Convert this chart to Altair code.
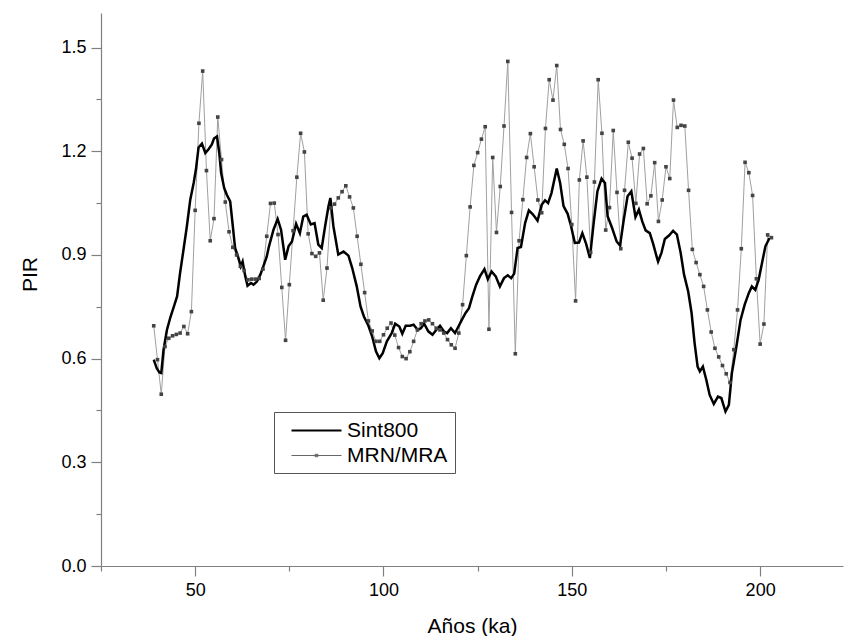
import altair as alt
import pandas as pd

# ---------------- data ----------------
series_names = ["Sint800", "MRN/MRA"]

mrn_age = list(range(39, 204))
mrn_pir = [
    0.695, 0.597, 0.497, 0.635, 0.659, 0.666, 0.670, 0.674, 0.693, 0.672,   # 39-48
    0.736, 1.029, 1.281, 1.432, 1.144, 0.941, 1.005, 1.299, 1.176, 1.053,   # 49-58
    0.967, 0.922, 0.900, 0.867, 0.855, 0.828, 0.830, 0.830, 0.832, 0.859,   # 59-68
    0.954, 1.049, 1.050, 0.959, 0.806, 0.653, 0.814, 0.970, 1.125, 1.252,   # 69-78
    1.198, 0.961, 0.904, 0.896, 0.906, 0.769, 0.862, 1.036, 1.047, 1.065,   # 79-88
    1.083, 1.100, 1.068, 1.036, 0.954, 0.873, 0.791, 0.709, 0.680, 0.650,   # 89-98
    0.650, 0.669, 0.688, 0.703, 0.668, 0.632, 0.606, 0.600, 0.620, 0.650,   # 99-108
    0.683, 0.701, 0.709, 0.712, 0.701, 0.688, 0.683, 0.674, 0.655, 0.640,   # 109-118
    0.630, 0.674, 0.756, 0.898, 1.039, 1.159, 1.196, 1.235, 1.271, 0.685,   # 119-128
    1.182, 0.965, 1.098, 1.273, 1.460, 1.023, 0.614, 0.941, 1.060, 1.182,   # 129-138
    1.251, 1.155, 1.059, 1.022, 1.266, 1.407, 1.348, 1.448, 1.263, 1.220,   # 139-148
    1.150, 0.988, 0.767, 1.117, 1.230, 1.125, 0.908, 1.111, 1.407, 1.252,   # 149-158
    0.972, 1.037, 1.260, 1.081, 0.918, 1.087, 1.226, 1.180, 1.049, 1.192,   # 159-168
    1.208, 1.048, 1.071, 1.167, 0.997, 1.059, 1.155, 1.121, 1.348, 1.269,   # 169-178
    1.275, 1.273, 1.087, 0.916, 0.878, 0.843, 0.809, 0.741, 0.677, 0.630,   # 179-188
    0.605, 0.580, 0.556, 0.531, 0.626, 0.741, 0.918, 1.168, 1.138, 1.072,   # 189-198
    0.831, 0.642, 0.700, 0.958, 0.950,                                      # 199-203
]

sint_age = [
    39.0, 39.8, 40.5, 41.0, 41.6, 42.5, 43.4, 44.3, 45.2, 46.0, 46.9, 47.8, 48.7, 49.6,
    50.2, 50.9, 51.8, 52.7, 53.5, 54.4, 55.0, 55.8, 56.4, 56.9, 57.7, 58.4, 59.3, 60.0,
    60.6, 61.5, 62.1, 62.6, 63.3, 63.9, 64.8, 65.5, 66.4, 67.3, 68.1, 69.0, 69.6, 70.8,
    71.9, 72.8, 73.9, 74.8, 75.7, 76.8, 77.8, 78.7, 79.6, 80.7, 81.7, 82.7, 83.6, 84.5,
    85.4, 85.9, 86.7, 88.0, 89.4, 90.7, 91.7, 92.9, 93.9, 94.8, 96.0, 97.0, 98.0, 98.9,
    99.8, 100.9, 102.2, 103.1, 104.2, 105.0, 105.9, 107.0, 108.0, 109.1, 109.9, 110.8,
    111.9, 113.0, 114.0, 115.0, 116.0, 116.9, 117.9, 119.0, 119.9, 120.8, 121.8, 122.7,
    123.6, 124.6, 125.6, 126.8, 127.7, 128.7, 129.8, 130.9, 132.0, 133.0, 133.9, 134.7,
    135.6, 136.5, 137.6, 138.6, 139.7, 140.9, 142.0, 142.9, 143.7, 144.6, 146.0, 146.9,
    147.8, 148.9, 149.8, 150.8, 151.9, 152.8, 153.8, 154.8, 155.8, 156.8, 157.9, 158.8,
    159.5, 160.7, 161.9, 162.8, 163.8, 164.8, 165.8, 166.9, 167.8, 168.7, 169.6, 170.7,
    171.6, 172.5, 172.9, 173.8, 174.7, 175.8, 176.9, 177.9, 178.9, 179.8, 180.9, 181.8,
    182.6, 183.4, 184.0, 184.8, 185.7, 186.6, 187.7, 188.8, 189.7, 190.8, 191.7, 192.5,
    193.7, 194.8, 195.9, 197.0, 197.8, 198.7, 199.6, 200.5, 201.4, 202.5,
]
sint_pir = [
    0.597, 0.572, 0.560, 0.558, 0.625, 0.683, 0.719, 0.749, 0.780, 0.848, 0.915, 0.983, 1.060, 1.108,
    1.147, 1.211, 1.222, 1.195, 1.205, 1.219, 1.237, 1.243, 1.195, 1.137, 1.094, 1.074, 1.055, 0.983,
    0.920, 0.891, 0.867, 0.881, 0.838, 0.811, 0.819, 0.814, 0.823, 0.843, 0.867, 0.895, 0.925, 0.973,
    1.004, 0.973, 0.886, 0.925, 0.939, 0.990, 0.963, 1.011, 1.016, 0.988, 0.992, 0.930, 0.920, 0.983,
    1.041, 1.065, 0.983, 0.901, 0.910, 0.898, 0.862, 0.809, 0.751, 0.722, 0.695, 0.664, 0.621, 0.601,
    0.616, 0.650, 0.674, 0.701, 0.693, 0.672, 0.695, 0.695, 0.698, 0.683, 0.688, 0.701,
    0.679, 0.669, 0.683, 0.695, 0.679, 0.674, 0.688, 0.674, 0.693, 0.712, 0.732, 0.746,
    0.780, 0.814, 0.838, 0.859, 0.830, 0.852, 0.838, 0.809, 0.833, 0.841, 0.833, 0.846,
    0.920, 0.923, 0.992, 1.029, 1.017, 0.999, 1.045, 1.058, 1.050, 1.079, 1.150, 1.108,
    1.041, 1.019, 0.983, 0.935, 0.936, 0.963, 0.932, 0.891, 0.992, 1.084, 1.121, 1.108,
    1.012, 0.978, 0.939, 0.927, 1.002, 1.070, 1.084, 1.010, 1.031, 0.997, 0.971, 0.963,
    0.932, 0.896, 0.881, 0.906, 0.946, 0.956, 0.970, 0.959, 0.906, 0.843, 0.794, 0.732,
    0.645, 0.577, 0.563, 0.577, 0.539, 0.495, 0.469, 0.490, 0.486, 0.447, 0.466, 0.558,
    0.635, 0.712, 0.756, 0.790, 0.809, 0.799, 0.828, 0.877, 0.925, 0.949,
]

x_tick_values = [25, 50, 75, 100, 125, 150, 175, 200]
y_tick_values = [0.0, 0.15, 0.3, 0.45, 0.6, 0.75, 0.9, 1.05, 1.2, 1.35, 1.5]

# ---------------- tables ----------------
sint_df = pd.DataFrame({"age": sint_age, "pir": sint_pir})
mrn_df = pd.DataFrame({"age": mrn_age, "pir": mrn_pir})
legend_df = pd.DataFrame({"serie": series_names})

FONT = "Liberation Sans"
MAJOR_Y = "abs(datum.value*10 - round(datum.value*10/3)*3) < 0.01"

x_enc = alt.X(
    "age:Q",
    scale=alt.Scale(domain=[25, 222], nice=False, zero=False),
    axis=alt.Axis(
        title="Años (ka)",
        values=x_tick_values,
        labelExpr="datum.value % 50 == 0 ? datum.label : ''",
        tickSize={"condition": {"test": "datum.value % 50 == 0", "value": 10}, "value": 5},
        grid=False,
        labelPadding=5,
        titlePadding=16,
    ),
)
y_enc = alt.Y(
    "pir:Q",
    scale=alt.Scale(domain=[0, 1.6], nice=False),
    axis=alt.Axis(
        title="PIR",
        values=y_tick_values,
        labelExpr=MAJOR_Y + " ? format(datum.value, '.1f') : ''",
        tickSize={"condition": {"test": MAJOR_Y, "value": 10}, "value": 5},
        grid=False,
        labelPadding=5,
        titlePadding=20,
        titleY=261,
    ),
)

gray_line = alt.Chart(mrn_df).mark_line(color="#a0a0a0", strokeWidth=1).encode(x=x_enc, y=y_enc)
black_line = alt.Chart(sint_df).mark_line(color="#000000", strokeWidth=2.5).encode(x=x_enc, y=y_enc)
squares = alt.Chart(mrn_df).mark_square(color="#444444", size=13, opacity=1).encode(x=x_enc, y=y_enc)

path_line = "M-0.1,0H4.9"
path_line_sq = "M-0.1,0H4.9M2.25,-0.12H2.55V0.12H2.25Z"

legend_layer = alt.Chart(legend_df).mark_point(opacity=0, filled=False, size=400).encode(
    shape=alt.Shape(
        "serie:N",
        scale=alt.Scale(domain=series_names, range=[path_line, path_line_sq]),
        legend=alt.Legend(title=None),
    ),
    color=alt.Color(
        "serie:N",
        scale=alt.Scale(domain=series_names, range=["#000000", "#666666"]),
        legend=alt.Legend(title=None),
    ),
    strokeWidth=alt.StrokeWidth(
        "serie:N",
        scale=alt.Scale(domain=series_names, range=[2.2, 1.0]),
        legend=alt.Legend(title=None),
    ),
)

chart = (
    alt.layer(gray_line, black_line, squares, legend_layer)
    .properties(
        width=742,
        height=553,
        padding={"left": 101, "top": 13, "right": 1, "bottom": 70},
        autosize=alt.AutoSizeParams(type="none"),
        background="white",
    )
    .configure_view(stroke=None)
    .configure_axis(
        labelFont=FONT,
        titleFont=FONT,
        labelFontSize=18,
        titleFontSize=21,
        titleFontWeight="normal",
        labelColor="#000000",
        titleColor="#000000",
        domainColor="#808080",
        tickColor="#808080",
        domainWidth=1.2,
        tickWidth=1.2,
    )
    .configure_legend(
        orient="none",
        legendX=173,
        legendY=399,
        padding=7,
        strokeColor="#555555",
        fillColor="white",
        labelFont=FONT,
        labelFontSize=21,
        labelColor="#000000",
        labelOffset=43,
        symbolSize=400,
        symbolOpacity=1,
        rowPadding=3,
    )
)

chart.save("out.html", embed_options={"renderer": "svg", "actions": False})
